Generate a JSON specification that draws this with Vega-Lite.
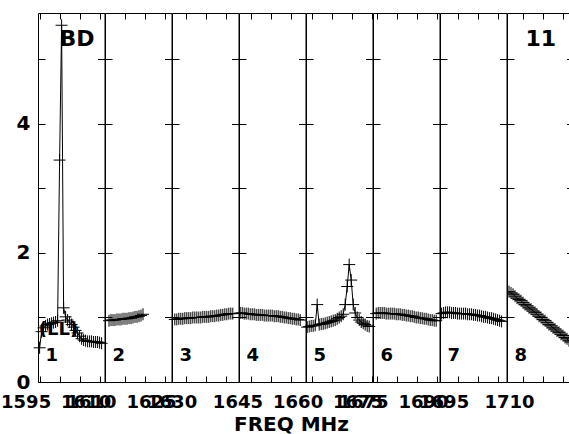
{
"$schema":"https://vega.github.io/schema/vega-lite/v6.json",
"background":"white",
"padding":{"left":0,"top":12,"right":0,"bottom":0},
"bounds":"flush",
"spacing":0,
"config":{"view":{"stroke":null},"axis":{"domainColor":"black","tickColor":"black","labelColor":"black","labelFont":"DejaVu Sans","labelFontWeight":"bold","titleFont":"DejaVu Sans","titleFontWeight":"bold","titleColor":"black","grid":false,"domainWidth":1,"tickWidth":1}},
"datasets":{
"pts":[
{"panel":1,"freq":1595,"amp":0.53},{"panel":1,"freq":1595.5,"amp":0.78},{"panel":1,"freq":1596,"amp":0.84},{"panel":1,"freq":1596.5,"amp":0.87},{"panel":1,"freq":1597,"amp":0.89},{"panel":1,"freq":1597.5,"amp":0.9},{"panel":1,"freq":1598,"amp":0.91},{"panel":1,"freq":1598.5,"amp":0.92},{"panel":1,"freq":1599,"amp":0.93},{"panel":1,"freq":1599.5,"amp":0.95},{"panel":1,"freq":1600,"amp":3.44},{"panel":1,"freq":1600.5,"amp":5.53},{"panel":1,"freq":1601,"amp":1.15},{"panel":1,"freq":1601.5,"amp":1.01},{"panel":1,"freq":1602,"amp":0.96},{"panel":1,"freq":1602.5,"amp":0.93},{"panel":1,"freq":1603,"amp":0.89},{"panel":1,"freq":1603.5,"amp":0.85},{"panel":1,"freq":1604,"amp":0.8},{"panel":1,"freq":1604.5,"amp":0.76},{"panel":1,"freq":1605,"amp":0.71},{"panel":1,"freq":1605.5,"amp":0.67},{"panel":1,"freq":1606,"amp":0.65},{"panel":1,"freq":1606.5,"amp":0.64},{"panel":1,"freq":1607,"amp":0.63},{"panel":1,"freq":1607.5,"amp":0.63},{"panel":1,"freq":1608,"amp":0.63},{"panel":1,"freq":1608.5,"amp":0.62},{"panel":1,"freq":1609,"amp":0.62},{"panel":1,"freq":1609.5,"amp":0.62},{"panel":1,"freq":1610,"amp":0.61},{"panel":1,"freq":1610.5,"amp":0.6},
{"panel":2,"freq":1611,"amp":0.95},{"panel":2,"freq":1611.5,"amp":0.96},{"panel":2,"freq":1612,"amp":0.96},{"panel":2,"freq":1612.5,"amp":0.96},{"panel":2,"freq":1613,"amp":0.97},{"panel":2,"freq":1613.5,"amp":0.97},{"panel":2,"freq":1614,"amp":0.97},{"panel":2,"freq":1614.5,"amp":0.98},{"panel":2,"freq":1615,"amp":0.98},{"panel":2,"freq":1615.5,"amp":0.98},{"panel":2,"freq":1616,"amp":0.99},{"panel":2,"freq":1616.5,"amp":0.99},{"panel":2,"freq":1617,"amp":1.0},{"panel":2,"freq":1617.5,"amp":1.01},{"panel":2,"freq":1618,"amp":1.01},{"panel":2,"freq":1618.5,"amp":1.02},{"panel":2,"freq":1619,"amp":1.03},{"panel":2,"freq":1619.5,"amp":1.05},
{"panel":3,"freq":1627.3,"amp":0.97},{"panel":3,"freq":1627.8,"amp":0.97},{"panel":3,"freq":1628.3,"amp":0.98},{"panel":3,"freq":1628.8,"amp":0.98},{"panel":3,"freq":1629.3,"amp":0.98},{"panel":3,"freq":1629.8,"amp":0.99},{"panel":3,"freq":1630.3,"amp":0.99},{"panel":3,"freq":1630.8,"amp":0.99},{"panel":3,"freq":1631.3,"amp":0.99},{"panel":3,"freq":1631.8,"amp":1.0},{"panel":3,"freq":1632.3,"amp":1.0},{"panel":3,"freq":1632.8,"amp":1.0},{"panel":3,"freq":1633.3,"amp":1.0},{"panel":3,"freq":1633.8,"amp":1.0},{"panel":3,"freq":1634.3,"amp":1.01},{"panel":3,"freq":1634.8,"amp":1.01},{"panel":3,"freq":1635.3,"amp":1.01},{"panel":3,"freq":1635.8,"amp":1.01},{"panel":3,"freq":1636.3,"amp":1.02},{"panel":3,"freq":1636.8,"amp":1.02},{"panel":3,"freq":1637.3,"amp":1.02},{"panel":3,"freq":1637.8,"amp":1.03},{"panel":3,"freq":1638.3,"amp":1.03},{"panel":3,"freq":1638.8,"amp":1.04},{"panel":3,"freq":1639.3,"amp":1.04},{"panel":3,"freq":1639.8,"amp":1.05},{"panel":3,"freq":1640.3,"amp":1.05},{"panel":3,"freq":1640.8,"amp":1.06},{"panel":3,"freq":1641.3,"amp":1.06},{"panel":3,"freq":1641.8,"amp":1.06},
{"panel":4,"freq":1642.2,"amp":1.07},{"panel":4,"freq":1642.7,"amp":1.07},{"panel":4,"freq":1643.2,"amp":1.06},{"panel":4,"freq":1643.7,"amp":1.06},{"panel":4,"freq":1644.2,"amp":1.06},{"panel":4,"freq":1644.7,"amp":1.05},{"panel":4,"freq":1645.2,"amp":1.05},{"panel":4,"freq":1645.7,"amp":1.05},{"panel":4,"freq":1646.2,"amp":1.04},{"panel":4,"freq":1646.7,"amp":1.04},{"panel":4,"freq":1647.2,"amp":1.04},{"panel":4,"freq":1647.7,"amp":1.04},{"panel":4,"freq":1648.2,"amp":1.03},{"panel":4,"freq":1648.7,"amp":1.03},{"panel":4,"freq":1649.2,"amp":1.03},{"panel":4,"freq":1649.7,"amp":1.03},{"panel":4,"freq":1650.2,"amp":1.03},{"panel":4,"freq":1650.7,"amp":1.02},{"panel":4,"freq":1651.2,"amp":1.02},{"panel":4,"freq":1651.7,"amp":1.02},{"panel":4,"freq":1652.2,"amp":1.01},{"panel":4,"freq":1652.7,"amp":1.01},{"panel":4,"freq":1653.2,"amp":1.0},{"panel":4,"freq":1653.7,"amp":1.0},{"panel":4,"freq":1654.2,"amp":0.99},{"panel":4,"freq":1654.7,"amp":0.99},{"panel":4,"freq":1655.2,"amp":0.98},{"panel":4,"freq":1655.7,"amp":0.98},{"panel":4,"freq":1656.2,"amp":0.97},{"panel":4,"freq":1656.7,"amp":0.97},{"panel":4,"freq":1657.2,"amp":0.96},
{"panel":5,"freq":1658.9,"amp":0.85},{"panel":5,"freq":1659.4,"amp":0.86},{"panel":5,"freq":1659.9,"amp":0.87},{"panel":5,"freq":1660.4,"amp":0.87},{"panel":5,"freq":1660.9,"amp":0.88},{"panel":5,"freq":1661.4,"amp":1.2},{"panel":5,"freq":1661.9,"amp":0.89},{"panel":5,"freq":1662.4,"amp":0.9},{"panel":5,"freq":1662.9,"amp":0.9},{"panel":5,"freq":1663.4,"amp":0.91},{"panel":5,"freq":1663.9,"amp":0.92},{"panel":5,"freq":1664.4,"amp":0.93},{"panel":5,"freq":1664.9,"amp":0.94},{"panel":5,"freq":1665.4,"amp":0.95},{"panel":5,"freq":1665.9,"amp":0.96},{"panel":5,"freq":1666.4,"amp":0.98},{"panel":5,"freq":1666.9,"amp":1.0},{"panel":5,"freq":1667.4,"amp":1.02},{"panel":5,"freq":1667.9,"amp":1.05},{"panel":5,"freq":1668.4,"amp":1.2},{"panel":5,"freq":1668.9,"amp":1.48},{"panel":5,"freq":1669.4,"amp":1.82},{"panel":5,"freq":1669.9,"amp":1.58},{"panel":5,"freq":1670.4,"amp":1.2},{"panel":5,"freq":1670.9,"amp":1.07},{"panel":5,"freq":1671.4,"amp":1.0},{"panel":5,"freq":1671.9,"amp":0.96},{"panel":5,"freq":1672.4,"amp":0.93},{"panel":5,"freq":1672.9,"amp":0.91},{"panel":5,"freq":1673.4,"amp":0.89},{"panel":5,"freq":1673.9,"amp":0.87},{"panel":5,"freq":1674.4,"amp":0.86},
{"panel":6,"freq":1674.8,"amp":1.06},{"panel":6,"freq":1675.3,"amp":1.07},{"panel":6,"freq":1675.8,"amp":1.07},{"panel":6,"freq":1676.3,"amp":1.07},{"panel":6,"freq":1676.8,"amp":1.07},{"panel":6,"freq":1677.3,"amp":1.06},{"panel":6,"freq":1677.8,"amp":1.06},{"panel":6,"freq":1678.3,"amp":1.06},{"panel":6,"freq":1678.8,"amp":1.06},{"panel":6,"freq":1679.3,"amp":1.06},{"panel":6,"freq":1679.8,"amp":1.05},{"panel":6,"freq":1680.3,"amp":1.05},{"panel":6,"freq":1680.8,"amp":1.05},{"panel":6,"freq":1681.3,"amp":1.04},{"panel":6,"freq":1681.8,"amp":1.04},{"panel":6,"freq":1682.3,"amp":1.03},{"panel":6,"freq":1682.8,"amp":1.03},{"panel":6,"freq":1683.3,"amp":1.02},{"panel":6,"freq":1683.8,"amp":1.02},{"panel":6,"freq":1684.3,"amp":1.01},{"panel":6,"freq":1684.8,"amp":1.0},{"panel":6,"freq":1685.3,"amp":1.0},{"panel":6,"freq":1685.8,"amp":0.99},{"panel":6,"freq":1686.3,"amp":0.99},{"panel":6,"freq":1686.8,"amp":0.98},{"panel":6,"freq":1687.3,"amp":0.98},{"panel":6,"freq":1687.8,"amp":0.97},{"panel":6,"freq":1688.3,"amp":0.96},{"panel":6,"freq":1688.8,"amp":0.96},{"panel":6,"freq":1689.3,"amp":0.95},{"panel":6,"freq":1689.8,"amp":0.95},
{"panel":7,"freq":1691,"amp":1.06},{"panel":7,"freq":1691.5,"amp":1.07},{"panel":7,"freq":1692,"amp":1.08},{"panel":7,"freq":1692.5,"amp":1.08},{"panel":7,"freq":1693,"amp":1.08},{"panel":7,"freq":1693.5,"amp":1.07},{"panel":7,"freq":1694,"amp":1.07},{"panel":7,"freq":1694.5,"amp":1.07},{"panel":7,"freq":1695,"amp":1.06},{"panel":7,"freq":1695.5,"amp":1.06},{"panel":7,"freq":1696,"amp":1.06},{"panel":7,"freq":1696.5,"amp":1.06},{"panel":7,"freq":1697,"amp":1.06},{"panel":7,"freq":1697.5,"amp":1.05},{"panel":7,"freq":1698,"amp":1.05},{"panel":7,"freq":1698.5,"amp":1.05},{"panel":7,"freq":1699,"amp":1.04},{"panel":7,"freq":1699.5,"amp":1.04},{"panel":7,"freq":1700,"amp":1.03},{"panel":7,"freq":1700.5,"amp":1.03},{"panel":7,"freq":1701,"amp":1.02},{"panel":7,"freq":1701.5,"amp":1.01},{"panel":7,"freq":1702,"amp":1.01},{"panel":7,"freq":1702.5,"amp":1.0},{"panel":7,"freq":1703,"amp":0.99},{"panel":7,"freq":1703.5,"amp":0.99},{"panel":7,"freq":1704,"amp":0.98},{"panel":7,"freq":1704.5,"amp":0.97},{"panel":7,"freq":1705,"amp":0.96},{"panel":7,"freq":1705.5,"amp":0.95},{"panel":7,"freq":1706,"amp":0.94},
{"panel":8,"freq":1706.5,"amp":1.4},{"panel":8,"freq":1707,"amp":1.38},{"panel":8,"freq":1707.5,"amp":1.36},{"panel":8,"freq":1708,"amp":1.33},{"panel":8,"freq":1708.5,"amp":1.3},{"panel":8,"freq":1709,"amp":1.28},{"panel":8,"freq":1709.5,"amp":1.26},{"panel":8,"freq":1710,"amp":1.23},{"panel":8,"freq":1710.5,"amp":1.2},{"panel":8,"freq":1711,"amp":1.18},{"panel":8,"freq":1711.5,"amp":1.15},{"panel":8,"freq":1712,"amp":1.13},{"panel":8,"freq":1712.5,"amp":1.1},{"panel":8,"freq":1713,"amp":1.08},{"panel":8,"freq":1713.5,"amp":1.05},{"panel":8,"freq":1714,"amp":1.02},{"panel":8,"freq":1714.5,"amp":1.0},{"panel":8,"freq":1715,"amp":0.97},{"panel":8,"freq":1715.5,"amp":0.95},{"panel":8,"freq":1716,"amp":0.92},{"panel":8,"freq":1716.5,"amp":0.89},{"panel":8,"freq":1717,"amp":0.87},{"panel":8,"freq":1717.5,"amp":0.84},{"panel":8,"freq":1718,"amp":0.82},{"panel":8,"freq":1718.5,"amp":0.79},{"panel":8,"freq":1719,"amp":0.77},{"panel":8,"freq":1719.5,"amp":0.74},{"panel":8,"freq":1720,"amp":0.72},{"panel":8,"freq":1720.5,"amp":0.69},{"panel":8,"freq":1721,"amp":0.67},{"panel":8,"freq":1721.5,"amp":0.64},{"panel":8,"freq":1722,"amp":0.62}
],
"ann":[
{"panel":1,"kind":"id","freq":1596.5,"amp":0.33,"label":"1"},
{"panel":1,"kind":"pol","freq":1594.8,"amp":0.73,"label":"(LL)"},
{"panel":1,"kind":"src","freq":1600.0,"amp":5.21,"label":"BD"},
{"panel":2,"kind":"id","freq":1611.9,"amp":0.33,"label":"2"},
{"panel":3,"kind":"id","freq":1628.5,"amp":0.33,"label":"3"},
{"panel":4,"kind":"id","freq":1643.8,"amp":0.33,"label":"4"},
{"panel":5,"kind":"id","freq":1660.5,"amp":0.33,"label":"5"},
{"panel":6,"kind":"id","freq":1675.9,"amp":0.33,"label":"6"},
{"panel":7,"kind":"id","freq":1692.5,"amp":0.33,"label":"7"},
{"panel":8,"kind":"id","freq":1707.9,"amp":0.33,"label":"8"},
{"panel":8,"kind":"src","freq":1710.6,"amp":5.21,"label":"11"}
]},
"hconcat":[
{"width":66.5,"height":369,"layer":[
{"data":{"name":"pts"},"transform":[{"filter":"datum.panel == 1"}],"mark":{"type":"line","color":"black","strokeWidth":1},
"encoding":{"x":{"field":"freq","type":"quantitative","scale":{"domain":[1594.6,1611.225],"nice":false,"zero":false},"axis":{"orient":"bottom","values":[1595,1600,1605,1610],"format":"d","labelExpr":"indexof([1595,1610], datum.value) >= 0 ? datum.label : ''","tickSize":-6,"labelPadding":17,"labelOffset":-14,"labelFontSize":18,"labelFlush":false,"labelOverlap":false,"title":null}},
"y":{"field":"amp","type":"quantitative","scale":{"domain":[0,5.72],"nice":false,"zero":false},"axis":{"orient":"left","values":[0,1,2,3,4,5],"tickSize":-7,"labelPadding":15,"labelFontSize":20,"labelExpr":"datum.value % 2 == 0 ? datum.label : ''","labelOverlap":false,"labelFlush":false,"title":null}}}},
{"data":{"name":"pts"},"transform":[{"filter":"datum.panel == 1"}],"mark":{"type":"point","shape":"M-1,0H1M0,-1V1","size":144,"filled":false,"color":"black","strokeWidth":1,"opacity":1},
"encoding":{"x":{"field":"freq","type":"quantitative","scale":{"domain":[1594.6,1611.225],"nice":false,"zero":false},"axis":{"orient":"top","values":[1595,1600,1605,1610],"labels":false,"tickSize":-6,"title":null}},
"y":{"field":"amp","type":"quantitative","scale":{"domain":[0,5.72],"nice":false,"zero":false},"axis":{"orient":"right","values":[0,1,2,3,4,5],"labels":false,"tickSize":-7,"title":null}}}},
{"data":{"name":"ann"},"transform":[{"filter":"datum.panel == 1 && datum.kind != 'src'"}],"mark":{"type":"text","font":"DejaVu Sans","fontWeight":"bold","fontSize":18,"align":"left","baseline":"alphabetic","color":"black"},
"encoding":{"x":{"field":"freq","type":"quantitative","scale":{"domain":[1594.6,1611.225],"nice":false,"zero":false},"axis":null},"y":{"field":"amp","type":"quantitative","scale":{"domain":[0,5.72],"nice":false,"zero":false},"axis":null},"text":{"field":"label"}}},
{"data":{"name":"ann"},"transform":[{"filter":"datum.panel == 1 && datum.kind == 'src'"}],"mark":{"type":"text","font":"DejaVu Sans","fontWeight":"bold","fontSize":22,"align":"left","baseline":"alphabetic","color":"black"},
"encoding":{"x":{"field":"freq","type":"quantitative","scale":{"domain":[1594.6,1611.225],"nice":false,"zero":false},"axis":null},"y":{"field":"amp","type":"quantitative","scale":{"domain":[0,5.72],"nice":false,"zero":false},"axis":null},"text":{"field":"label"}}}
],"resolve":{"axis":{"x":"independent","y":"independent"}}},

{"width":66.5,"height":369,"layer":[
{"data":{"name":"pts"},"transform":[{"filter":"datum.panel == 2"}],"mark":{"type":"line","color":"black","strokeWidth":1},
"encoding":{"x":{"field":"freq","type":"quantitative","scale":{"domain":[1610.0,1626.625],"nice":false,"zero":false},"axis":{"orient":"bottom","values":[1610,1615,1620,1625],"format":"d","labelExpr":"indexof([1610,1625], datum.value) >= 0 ? datum.label : ''","tickSize":-6,"labelPadding":17,"labelOffset":-14,"labelFontSize":18,"labelFlush":false,"labelOverlap":false,"title":null}},
"y":{"field":"amp","type":"quantitative","scale":{"domain":[0,5.72],"nice":false,"zero":false},"axis":{"orient":"left","values":[0,1,2,3,4,5],"tickSize":-7,"labels":false,"title":null}}}},
{"data":{"name":"pts"},"transform":[{"filter":"datum.panel == 2"}],"mark":{"type":"point","shape":"M-1,0H1M0,-1V1","size":144,"filled":false,"color":"black","strokeWidth":1,"opacity":1},
"encoding":{"x":{"field":"freq","type":"quantitative","scale":{"domain":[1610.0,1626.625],"nice":false,"zero":false},"axis":{"orient":"top","values":[1610,1615,1620,1625],"labels":false,"tickSize":-6,"title":null}},
"y":{"field":"amp","type":"quantitative","scale":{"domain":[0,5.72],"nice":false,"zero":false},"axis":{"orient":"right","values":[0,1,2,3,4,5],"labels":false,"tickSize":-7,"title":null}}}},
{"data":{"name":"ann"},"transform":[{"filter":"datum.panel == 2"}],"mark":{"type":"text","font":"DejaVu Sans","fontWeight":"bold","fontSize":18,"align":"left","baseline":"alphabetic","color":"black"},
"encoding":{"x":{"field":"freq","type":"quantitative","scale":{"domain":[1610.0,1626.625],"nice":false,"zero":false},"axis":null},"y":{"field":"amp","type":"quantitative","scale":{"domain":[0,5.72],"nice":false,"zero":false},"axis":null},"text":{"field":"label"}}}
],"resolve":{"axis":{"x":"independent","y":"independent"}}},

{"width":66.5,"height":369,"layer":[
{"data":{"name":"pts"},"transform":[{"filter":"datum.panel == 3"}],"mark":{"type":"line","color":"black","strokeWidth":1},
"encoding":{"x":{"field":"freq","type":"quantitative","scale":{"domain":[1626.6,1643.225],"nice":false,"zero":false},"axis":{"orient":"bottom","values":[1630,1635,1640],"format":"d","labelExpr":"indexof([1630], datum.value) >= 0 ? datum.label : ''","tickSize":-6,"labelPadding":17,"labelOffset":-14,"labelFontSize":18,"labelFlush":false,"labelOverlap":false,"title":null}},
"y":{"field":"amp","type":"quantitative","scale":{"domain":[0,5.72],"nice":false,"zero":false},"axis":{"orient":"left","values":[0,1,2,3,4,5],"tickSize":-7,"labels":false,"title":null}}}},
{"data":{"name":"pts"},"transform":[{"filter":"datum.panel == 3"}],"mark":{"type":"point","shape":"M-1,0H1M0,-1V1","size":144,"filled":false,"color":"black","strokeWidth":1,"opacity":1},
"encoding":{"x":{"field":"freq","type":"quantitative","scale":{"domain":[1626.6,1643.225],"nice":false,"zero":false},"axis":{"orient":"top","values":[1630,1635,1640],"labels":false,"tickSize":-6,"title":null}},
"y":{"field":"amp","type":"quantitative","scale":{"domain":[0,5.72],"nice":false,"zero":false},"axis":{"orient":"right","values":[0,1,2,3,4,5],"labels":false,"tickSize":-7,"title":null}}}},
{"data":{"name":"ann"},"transform":[{"filter":"datum.panel == 3"}],"mark":{"type":"text","font":"DejaVu Sans","fontWeight":"bold","fontSize":18,"align":"left","baseline":"alphabetic","color":"black"},
"encoding":{"x":{"field":"freq","type":"quantitative","scale":{"domain":[1626.6,1643.225],"nice":false,"zero":false},"axis":null},"y":{"field":"amp","type":"quantitative","scale":{"domain":[0,5.72],"nice":false,"zero":false},"axis":null},"text":{"field":"label"}}}
],"resolve":{"axis":{"x":"independent","y":"independent"}}},

{"width":66.5,"height":369,"layer":[
{"data":{"name":"pts"},"transform":[{"filter":"datum.panel == 4"}],"mark":{"type":"line","color":"black","strokeWidth":1},
"encoding":{"x":{"field":"freq","type":"quantitative","scale":{"domain":[1641.9,1658.525],"nice":false,"zero":false},"axis":{"orient":"bottom","values":[1645,1650,1655],"format":"d","labelExpr":"indexof([1645], datum.value) >= 0 ? datum.label : ''","tickSize":-6,"labelPadding":17,"labelOffset":-14,"labelFontSize":18,"labelFlush":false,"labelOverlap":false,"title":null}},
"y":{"field":"amp","type":"quantitative","scale":{"domain":[0,5.72],"nice":false,"zero":false},"axis":{"orient":"left","values":[0,1,2,3,4,5],"tickSize":-7,"labels":false,"title":null}}}},
{"data":{"name":"pts"},"transform":[{"filter":"datum.panel == 4"}],"mark":{"type":"point","shape":"M-1,0H1M0,-1V1","size":144,"filled":false,"color":"black","strokeWidth":1,"opacity":1},
"encoding":{"x":{"field":"freq","type":"quantitative","scale":{"domain":[1641.9,1658.525],"nice":false,"zero":false},"axis":{"orient":"top","values":[1645,1650,1655],"labels":false,"tickSize":-6,"title":null}},
"y":{"field":"amp","type":"quantitative","scale":{"domain":[0,5.72],"nice":false,"zero":false},"axis":{"orient":"right","values":[0,1,2,3,4,5],"labels":false,"tickSize":-7,"title":null}}}},
{"data":{"name":"ann"},"transform":[{"filter":"datum.panel == 4"}],"mark":{"type":"text","font":"DejaVu Sans","fontWeight":"bold","fontSize":18,"align":"left","baseline":"alphabetic","color":"black"},
"encoding":{"x":{"field":"freq","type":"quantitative","scale":{"domain":[1641.9,1658.525],"nice":false,"zero":false},"axis":null},"y":{"field":"amp","type":"quantitative","scale":{"domain":[0,5.72],"nice":false,"zero":false},"axis":null},"text":{"field":"label"}}}
],"resolve":{"axis":{"x":"independent","y":"independent"}}},

{"width":66.5,"height":369,"layer":[
{"data":{"name":"pts"},"transform":[{"filter":"datum.panel == 5"}],"mark":{"type":"line","color":"black","strokeWidth":1},
"encoding":{"x":{"field":"freq","type":"quantitative","scale":{"domain":[1658.6,1675.225],"nice":false,"zero":false},"axis":{"orient":"bottom","values":[1660,1665,1670,1675],"format":"d","labelExpr":"indexof([1660,1675], datum.value) >= 0 ? datum.label : ''","tickSize":-6,"labelPadding":17,"labelOffset":-14,"labelFontSize":18,"labelFlush":false,"labelOverlap":false,"title":"FREQ MHz","titleFontSize":20,"titleX":-15,"titleY":48,"titleAlign":"center","titleBaseline":"alphabetic"}},
"y":{"field":"amp","type":"quantitative","scale":{"domain":[0,5.72],"nice":false,"zero":false},"axis":{"orient":"left","values":[0,1,2,3,4,5],"tickSize":-7,"labels":false,"title":null}}}},
{"data":{"name":"pts"},"transform":[{"filter":"datum.panel == 5"}],"mark":{"type":"point","shape":"M-1,0H1M0,-1V1","size":144,"filled":false,"color":"black","strokeWidth":1,"opacity":1},
"encoding":{"x":{"field":"freq","type":"quantitative","scale":{"domain":[1658.6,1675.225],"nice":false,"zero":false},"axis":{"orient":"top","values":[1660,1665,1670,1675],"labels":false,"tickSize":-6,"title":null}},
"y":{"field":"amp","type":"quantitative","scale":{"domain":[0,5.72],"nice":false,"zero":false},"axis":{"orient":"right","values":[0,1,2,3,4,5],"labels":false,"tickSize":-7,"title":null}}}},
{"data":{"name":"ann"},"transform":[{"filter":"datum.panel == 5"}],"mark":{"type":"text","font":"DejaVu Sans","fontWeight":"bold","fontSize":18,"align":"left","baseline":"alphabetic","color":"black"},
"encoding":{"x":{"field":"freq","type":"quantitative","scale":{"domain":[1658.6,1675.225],"nice":false,"zero":false},"axis":null},"y":{"field":"amp","type":"quantitative","scale":{"domain":[0,5.72],"nice":false,"zero":false},"axis":null},"text":{"field":"label"}}}
],"resolve":{"axis":{"x":"independent","y":"independent"}}},

{"width":66.5,"height":369,"layer":[
{"data":{"name":"pts"},"transform":[{"filter":"datum.panel == 6"}],"mark":{"type":"line","color":"black","strokeWidth":1},
"encoding":{"x":{"field":"freq","type":"quantitative","scale":{"domain":[1674.0,1690.625],"nice":false,"zero":false},"axis":{"orient":"bottom","values":[1675,1680,1685,1690],"format":"d","labelExpr":"indexof([1675,1690], datum.value) >= 0 ? datum.label : ''","tickSize":-6,"labelPadding":17,"labelOffset":-14,"labelFontSize":18,"labelFlush":false,"labelOverlap":false,"title":null}},
"y":{"field":"amp","type":"quantitative","scale":{"domain":[0,5.72],"nice":false,"zero":false},"axis":{"orient":"left","values":[0,1,2,3,4,5],"tickSize":-7,"labels":false,"title":null}}}},
{"data":{"name":"pts"},"transform":[{"filter":"datum.panel == 6"}],"mark":{"type":"point","shape":"M-1,0H1M0,-1V1","size":144,"filled":false,"color":"black","strokeWidth":1,"opacity":1},
"encoding":{"x":{"field":"freq","type":"quantitative","scale":{"domain":[1674.0,1690.625],"nice":false,"zero":false},"axis":{"orient":"top","values":[1675,1680,1685,1690],"labels":false,"tickSize":-6,"title":null}},
"y":{"field":"amp","type":"quantitative","scale":{"domain":[0,5.72],"nice":false,"zero":false},"axis":{"orient":"right","values":[0,1,2,3,4,5],"labels":false,"tickSize":-7,"title":null}}}},
{"data":{"name":"ann"},"transform":[{"filter":"datum.panel == 6"}],"mark":{"type":"text","font":"DejaVu Sans","fontWeight":"bold","fontSize":18,"align":"left","baseline":"alphabetic","color":"black"},
"encoding":{"x":{"field":"freq","type":"quantitative","scale":{"domain":[1674.0,1690.625],"nice":false,"zero":false},"axis":null},"y":{"field":"amp","type":"quantitative","scale":{"domain":[0,5.72],"nice":false,"zero":false},"axis":null},"text":{"field":"label"}}}
],"resolve":{"axis":{"x":"independent","y":"independent"}}},

{"width":66.5,"height":369,"layer":[
{"data":{"name":"pts"},"transform":[{"filter":"datum.panel == 7"}],"mark":{"type":"line","color":"black","strokeWidth":1},
"encoding":{"x":{"field":"freq","type":"quantitative","scale":{"domain":[1690.6,1707.225],"nice":false,"zero":false},"axis":{"orient":"bottom","values":[1695,1700,1705],"format":"d","labelExpr":"indexof([1695], datum.value) >= 0 ? datum.label : ''","tickSize":-6,"labelPadding":17,"labelOffset":-14,"labelFontSize":18,"labelFlush":false,"labelOverlap":false,"title":null}},
"y":{"field":"amp","type":"quantitative","scale":{"domain":[0,5.72],"nice":false,"zero":false},"axis":{"orient":"left","values":[0,1,2,3,4,5],"tickSize":-7,"labels":false,"title":null}}}},
{"data":{"name":"pts"},"transform":[{"filter":"datum.panel == 7"}],"mark":{"type":"point","shape":"M-1,0H1M0,-1V1","size":144,"filled":false,"color":"black","strokeWidth":1,"opacity":1},
"encoding":{"x":{"field":"freq","type":"quantitative","scale":{"domain":[1690.6,1707.225],"nice":false,"zero":false},"axis":{"orient":"top","values":[1695,1700,1705],"labels":false,"tickSize":-6,"title":null}},
"y":{"field":"amp","type":"quantitative","scale":{"domain":[0,5.72],"nice":false,"zero":false},"axis":{"orient":"right","values":[0,1,2,3,4,5],"labels":false,"tickSize":-7,"title":null}}}},
{"data":{"name":"ann"},"transform":[{"filter":"datum.panel == 7"}],"mark":{"type":"text","font":"DejaVu Sans","fontWeight":"bold","fontSize":18,"align":"left","baseline":"alphabetic","color":"black"},
"encoding":{"x":{"field":"freq","type":"quantitative","scale":{"domain":[1690.6,1707.225],"nice":false,"zero":false},"axis":null},"y":{"field":"amp","type":"quantitative","scale":{"domain":[0,5.72],"nice":false,"zero":false},"axis":null},"text":{"field":"label"}}}
],"resolve":{"axis":{"x":"independent","y":"independent"}}},

{"width":64.5,"height":369,"layer":[
{"data":{"name":"pts"},"transform":[{"filter":"datum.panel == 8"}],"mark":{"type":"line","color":"black","strokeWidth":1,"clip":true},
"encoding":{"x":{"field":"freq","type":"quantitative","scale":{"domain":[1706.0,1722.125],"nice":false,"zero":false},"axis":{"orient":"bottom","values":[1710,1715,1720],"format":"d","labelExpr":"indexof([1710], datum.value) >= 0 ? datum.label : ''","tickSize":-6,"labelPadding":17,"labelOffset":-14,"labelFontSize":18,"labelFlush":false,"labelOverlap":false,"title":null}},
"y":{"field":"amp","type":"quantitative","scale":{"domain":[0,5.72],"nice":false,"zero":false},"axis":{"orient":"left","values":[0,1,2,3,4,5],"tickSize":-7,"labels":false,"title":null}}}},
{"data":{"name":"pts"},"transform":[{"filter":"datum.panel == 8"}],"mark":{"type":"point","shape":"M-1,0H1M0,-1V1","size":144,"filled":false,"color":"black","strokeWidth":1,"opacity":1,"clip":true},
"encoding":{"x":{"field":"freq","type":"quantitative","scale":{"domain":[1706.0,1722.125],"nice":false,"zero":false},"axis":{"orient":"top","values":[1710,1715,1720],"labels":false,"tickSize":-6,"title":null}},
"y":{"field":"amp","type":"quantitative","scale":{"domain":[0,5.72],"nice":false,"zero":false},"axis":{"orient":"right","values":[0,1,2,3,4,5],"labels":false,"domain":false,"tickSize":-5,"title":null}}}},
{"data":{"name":"ann"},"transform":[{"filter":"datum.panel == 8 && datum.kind != 'src'"}],"mark":{"type":"text","font":"DejaVu Sans","fontWeight":"bold","fontSize":18,"align":"left","baseline":"alphabetic","color":"black"},
"encoding":{"x":{"field":"freq","type":"quantitative","scale":{"domain":[1706.0,1722.125],"nice":false,"zero":false},"axis":null},"y":{"field":"amp","type":"quantitative","scale":{"domain":[0,5.72],"nice":false,"zero":false},"axis":null},"text":{"field":"label"}}},
{"data":{"name":"ann"},"transform":[{"filter":"datum.panel == 8 && datum.kind == 'src'"}],"mark":{"type":"text","font":"DejaVu Sans","fontWeight":"bold","fontSize":22,"align":"left","baseline":"alphabetic","color":"black"},
"encoding":{"x":{"field":"freq","type":"quantitative","scale":{"domain":[1706.0,1722.125],"nice":false,"zero":false},"axis":null},"y":{"field":"amp","type":"quantitative","scale":{"domain":[0,5.72],"nice":false,"zero":false},"axis":null},"text":{"field":"label"}}}
],"resolve":{"axis":{"x":"independent","y":"independent"}}}
]
}
